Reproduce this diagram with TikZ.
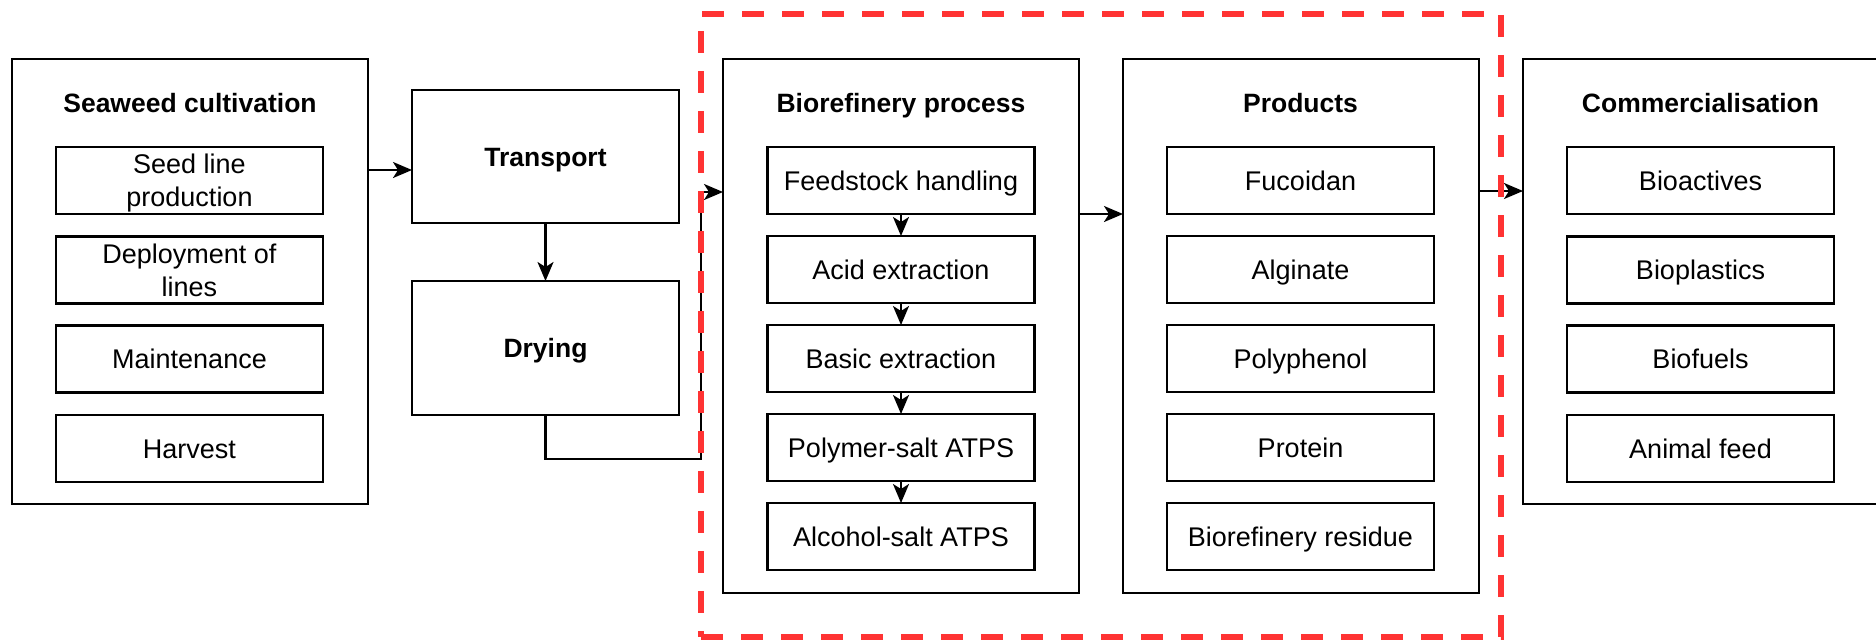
\documentclass[tikz,border=0pt]{standalone}
\usepackage{fontspec}
\setmainfont{Liberation Sans}
\usetikzlibrary{arrows.meta}
\definecolor{dashred}{RGB}{255,51,51}
\begin{document}
\begin{tikzpicture}[x=1pt,y=-1pt,
  box/.style={draw, line width=2.2pt, inner sep=0pt, outer sep=0pt},
  stage/.style={box, minimum width=356pt},
  item/.style={box, minimum width=267pt, minimum height=67pt,
    font=\fontsize{27}{33}\selectfont, text height=19.3pt, text depth=0pt},
  itemtwo/.style={box, minimum width=267pt, minimum height=67pt,
    font=\fontsize{27}{33}\selectfont, align=center, text depth=0pt},
  ttl/.style={anchor=base, font=\fontsize{26.5}{32}\selectfont\bfseries},
  bigttl/.style={box, minimum width=267pt,
    font=\fontsize{26.5}{32}\selectfont\bfseries, text height=19pt, text depth=0pt},
  arr/.style={line width=2.2pt, -{Stealth[length=19pt, width=16pt, inset=5pt]}},
  region/.style={draw=dashred, line width=5.5pt, dash pattern=on 22pt off 18pt}
]
\useasboundingbox[fill=white] (0,0) rectangle (1876,641);

% Seaweed cultivation
\node[stage, minimum height=445pt] (sea) at (190,281.5) {};
\node[ttl] (seat) at (190,112.5) {Seaweed cultivation};
\node[itemtwo] (s1) at (189.5,180.5) {Seed line\\production};
\node[itemtwo] (s2) at (189.5,270) {Deployment of\\lines};
\node[item] (s3) at (189.5,359) {Maintenance};
\node[item] (s4) at (189.5,448.5) {Harvest};

% Transport / Drying
\node[bigttl, minimum height=133pt] (tra) at (545.5,156.5) {Transport};
\node[bigttl, minimum height=134pt] (dry) at (545.5,348) {Drying};

% Biorefinery process
\node[stage, minimum height=534pt] (bio) at (901,326) {};
\node[ttl] (biot) at (901,112.5) {Biorefinery process};
\node[item] (b1) at (901,180.5) {Feedstock handling};
\node[item] (b2) at (901,269.5) {Acid extraction};
\node[item] (b3) at (901,358.5) {Basic extraction};
\node[item] (b4) at (901,447.5) {Polymer-salt ATPS};
\node[item] (b5) at (901,536.5) {Alcohol-salt ATPS};

% Products
\node[stage, minimum height=534pt] (pro) at (1301,326) {};
\node[ttl] (prot) at (1300.5,112.5) {Products};
\node[item] (p1) at (1300.5,180.5) {Fucoidan};
\node[item] (p2) at (1300.5,269.5) {Alginate};
\node[item] (p3) at (1300.5,358.5) {Polyphenol};
\node[item] (p4) at (1300.5,447.5) {Protein};
\node[item] (p5) at (1300.5,536.5) {Biorefinery residue};

% Commercialisation
\node[stage, minimum height=445pt] (com) at (1701,281.5) {};
\node[ttl] (comt) at (1700.5,112.5) {Commercialisation};
\node[item] (c1) at (1700.5,180.5) {Bioactives};
\node[item] (c2) at (1700.5,270) {Bioplastics};
\node[item] (c3) at (1700.5,359) {Biofuels};
\node[item] (c4) at (1700.5,448.5) {Animal feed};

% helper coordinates
\coordinate (ya) at (0,170);
\coordinate (bendA) at (701,459);
\coordinate (bendB) at (701,192);
\coordinate (yb) at (0,214);
\coordinate (yc) at (0,191);

% connectors
\draw[arr] (sea.east |- ya) -- (tra.west |- ya);
\draw[arr] (tra.south) -- (dry.north);
\draw[arr] (dry.south) |- (bendA) -- (bendB) -- (bio.west |- bendB);
\draw[arr] (b1) -- (b2);
\draw[arr] (b2) -- (b3);
\draw[arr] (b3) -- (b4);
\draw[arr] (b4) -- (b5);
\draw[arr] (bio.east |- yb) -- (pro.west |- yb);
\draw[arr] (pro.east |- yc) -- (com.west |- yc);

% red dashed region
\node[region, minimum width=800pt, minimum height=623pt, inner sep=0pt, outer sep=0pt] (reg) at (1101,325.5) {};
\end{tikzpicture}
\end{document}
